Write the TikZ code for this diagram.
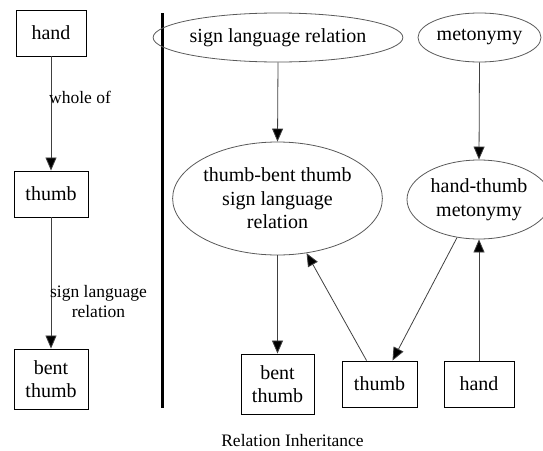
\documentclass[tikz,border=0pt]{standalone}
\usepackage{fontspec}
\setmainfont{Liberation Serif}
\usetikzlibrary{shapes.geometric,arrows.meta,calc}

\tikzset{
  box/.style={draw=black, line width=0.9pt, rectangle, inner sep=0pt, align=center,
    font=\fontsize{20}{23.5}\selectfont},
  oval/.style={draw=black!65, line width=0.8pt, ellipse, inner sep=0pt, align=center,
    font=\fontsize{20}{23.5}\selectfont},
  link/.style={draw=black!75, line width=0.8pt,
    -{Triangle[length=13pt,width=11pt,fill=black]}},
  lbl/.style={inner sep=0pt, align=center, font=\fontsize{17.5}{20}\selectfont},
}

\begin{document}
\begin{tikzpicture}[x=1pt,y=-1pt]
\useasboundingbox (0,0) rectangle (543,450);

% left column: the relation chain
\node[box, minimum width=70pt, minimum height=46pt] (handL)  at (51,33)  {hand};
\node[box, minimum width=74pt, minimum height=46pt] (thumbL) at (51,194) {thumb};
\node[box, minimum width=74pt, minimum height=60pt] (bentL)  at (51,379) {bent\\thumb};

\draw[link] (handL.south) -- (thumbL.north);
\draw[link] (thumbL.south) -- (bentL.north);
\node[lbl, anchor=west] (wholeof) at (49,97) {whole of};
\node[lbl] (slrlbl) at (98.5,302) {sign language\\relation};

% separator
\draw[line width=3pt] (162,13) coordinate (sepTop) -- (162,408) coordinate (sepBot);

% right part: inheritance graph
\node[oval, minimum width=218pt, minimum height=49pt] (slr) at (278,37.5) {sign language relation};
\node[oval, minimum width=123pt, minimum height=49pt] (met) at (479.5,37.5) {metonymy};
\node[oval, minimum width=209pt, minimum height=113pt] (tbt) at (277.5,198.5)
  {thumb-bent thumb\\sign language\\relation};
\node[oval, minimum width=144pt, minimum height=79pt] (htm) at (479,199.5)
  {hand-thumb\\metonymy};

\node[box, minimum width=73pt, minimum height=60pt] (bentR)  at (277.5,384) {bent\\thumb};
\node[box, minimum width=75pt, minimum height=46pt] (thumbR) at (379.5,384) {thumb};
\node[box, minimum width=70pt, minimum height=46pt] (handR)  at (479,384)   {hand};

\draw[link] (slr.south) -- (tbt.north);
\draw[link] (met.south) -- (htm.north);
\draw[link] (tbt.south) -- (bentR.north);
\draw[link] ($(thumbR.north west)+(25,0)$) -- (tbt.-62);
\draw[link] (htm.-120) -- ($(thumbR.north)+(13,0)$);
\draw[link] (handR.north) -- (htm.south);

% caption
\node[lbl] (caption) at (292.5,441) {Relation Inheritance};
\end{tikzpicture}
\end{document}
